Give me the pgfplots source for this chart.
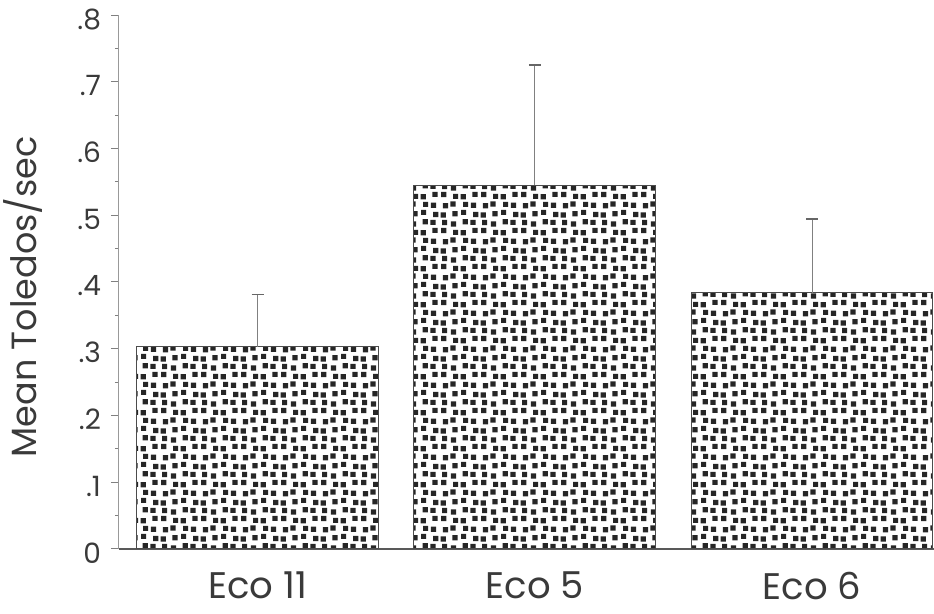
\documentclass[border=0pt]{standalone}
\usepackage{fontspec}
\setmainfont{Poppins}
\usepackage{pgfplots}
\pgfplotsset{compat=1.18}
\usetikzlibrary{patterns}
\definecolor{txt}{HTML}{3A3A3A}
\newcommand\sq[2]{\pgfpathrectangle{\pgfpoint{#1pt}{#2pt}}{\pgfpoint{2.6pt}{2.6pt}}}
\pgfdeclarepatternformonly{specks}{\pgfpoint{-0.1pt}{-0.1pt}}{\pgfpoint{20.1pt}{18.1pt}}{\pgfpoint{20pt}{18pt}}{
  \sq{0.3}{0.2}\sq{6.2}{0.8}\sq{10.5}{1.5}\sq{16.6}{0.4}
  \sq{1.4}{4.8}\sq{5.2}{5.7}\sq{11.5}{5.5}\sq{15.4}{5.1}
  \sq{0.6}{10.4}\sq{6.5}{9.5}\sq{10.3}{9.3}\sq{16.2}{10.5}
  \sq{1.0}{14.4}\sq{5.4}{13.7}\sq{11.3}{14.8}\sq{15.2}{14.5}
  \pgfusepath{fill}
}
\begin{document}
\begin{tikzpicture}[x=1pt,y=1pt]
\path[use as bounding box] (0,0) rectangle (467,307);
\begin{axis}[
  at={(59.5pt,32.5pt)}, anchor=south west,
  scale only axis, width=407.5pt, height=267pt,
  xmin=-0.5, xmax=2.44, ymin=0, ymax=0.8,
  axis x line=bottom, axis y line=left,
  x axis line style={-, draw=black!65, line width=0.7pt},
  y axis line style={-, draw=black!40, line width=0.5pt},
  xtick={0,1,2}, xticklabels={Eco 11, Eco 5, Eco 6},
  major x tick style={draw=none},
  ytick={0,0.1,0.2,0.3,0.4,0.5,0.6,0.7,0.8},
  yticklabels={0,.1,.2,.3,.4,.5,.6,.7,.8},
  minor y tick num=1,
  tick align=outside,
  major tick length=4pt, minor tick length=2pt,
  every tick/.style={draw=black!50, line width=0.5pt},
  /pgf/number format/assume math mode=true,
  y tick label style={font=\fontsize{14}{15}\selectfont, text=txt, xshift=-1.5pt, yshift=-2pt},
  x tick label style={font=\fontsize{18.5}{19}\selectfont, text=txt, yshift=-4pt},
  ylabel={Mean Toledos/sec},
  ylabel style={at={(axis description cs:-0.118,0.472)}, anchor=center, font=\fontsize{17.5}{18}\selectfont, text=txt},
]
\addplot[ybar, bar width=0.872, draw=black!70, line width=0.5pt, pattern=specks, pattern color=black!85,
  error bars/.cd, y dir=plus, y explicit,
  error bar style={draw=black!50, line width=0.5pt},
  error mark options={rotate=90, draw=black!60, mark size=3pt, line width=0.8pt}]
  coordinates {
    (0,0.303) +- (0,0.078)
    (1,0.545) +- (0,0.180)
    (2,0.384) +- (0,0.110)
  };
\end{axis}
\end{tikzpicture}
\end{document}
